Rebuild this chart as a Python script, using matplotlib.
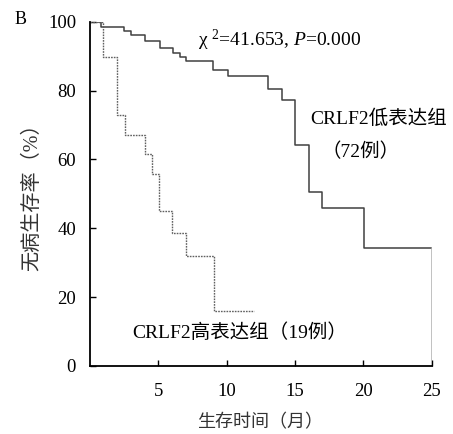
import matplotlib.pyplot as plt

plt.rcParams['font.family'] = ['Liberation Serif', 'Noto Sans CJK SC']
plt.rcParams['mathtext.fontset'] = 'custom'
plt.rcParams['mathtext.rm'] = 'Liberation Serif'
plt.rcParams['mathtext.it'] = 'Liberation Serif:italic'

# 低表达组 (72例)
t_low = [0, 0.8, 2.5, 3.0, 4.0, 5.1, 6.05, 6.6, 7.05, 9.0, 10.1, 13.0, 14.05, 15.0, 16.05, 17.0, 20.05, 25.0]
s_low = [100, 98.6, 97.2, 96.2, 94.3, 92.4, 90.9, 89.8, 88.5, 86.1, 84.2, 80.4, 77.2, 64.1, 50.5, 45.8, 34.4, 34.4]

# 高表达组 (19例)
t_high = [0, 0.95, 2.0, 2.55, 4.0, 4.5, 5.05, 6.0, 7.05, 9.05, 12.0]
s_high = [100, 89.8, 72.8, 67.2, 61.7, 55.9, 45.0, 38.6, 32.0, 16.0, 16.0]

fig = plt.figure(figsize=(4.53, 4.34), dpi=100)
ax = fig.add_axes([0.1987, 0.1567, 0.7543, 0.7933])

ax.step(t_low, s_low, where='post', color='#404040', lw=1.1)
ax.plot([t_low[-1], t_low[-1]], [s_low[-1], 0], color='#b0b0b0', lw=1.1)
ax.step(t_high, s_high, where='post', color='#606060', lw=1.0, ls=(0, (1.2, 0.8)))

ax.set_xlim(0, 25)
ax.set_ylim(0, 100)
ax.set_xticks([5, 10, 15, 20, 25])
ax.set_yticks([0, 20, 40, 60, 80, 100])
ax.tick_params(direction='in', length=4, width=1, labelsize=13.5)
ax.tick_params(axis='x', pad=12.5)
ax.tick_params(axis='y', pad=10)
for s in ['top', 'right']:
    ax.spines[s].set_visible(False)
for s in ['left', 'bottom']:
    ax.spines[s].set_linewidth(1.3)

ax.set_xlabel('生存时间（月）', fontsize=13, color='#333333', va='center')
ax.set_ylabel('无病生存率（%）', fontsize=14.5, color='#333333', va='center')
ax.xaxis.set_label_coords(0.4975, -0.166)
ax.yaxis.set_label_coords(-0.167, 0.504)

ax.text(7.9, 94.7, r'χ $^{2}$=41.653, $\mathit{P}$=0.000', fontsize=14, va='center')
ax.text(16.15, 71.9, 'CRLF2低表达组', fontsize=14, va='center')
ax.text(16.95, 62.2, '（72例）', fontsize=14, va='center')
ax.text(3.12, 9.6, 'CRLF2高表达组（19例）', fontsize=14, va='center')

fig.text(0.033, 0.956, 'B', fontsize=13, va='center')

fig.savefig('out.png', dpi=100)
